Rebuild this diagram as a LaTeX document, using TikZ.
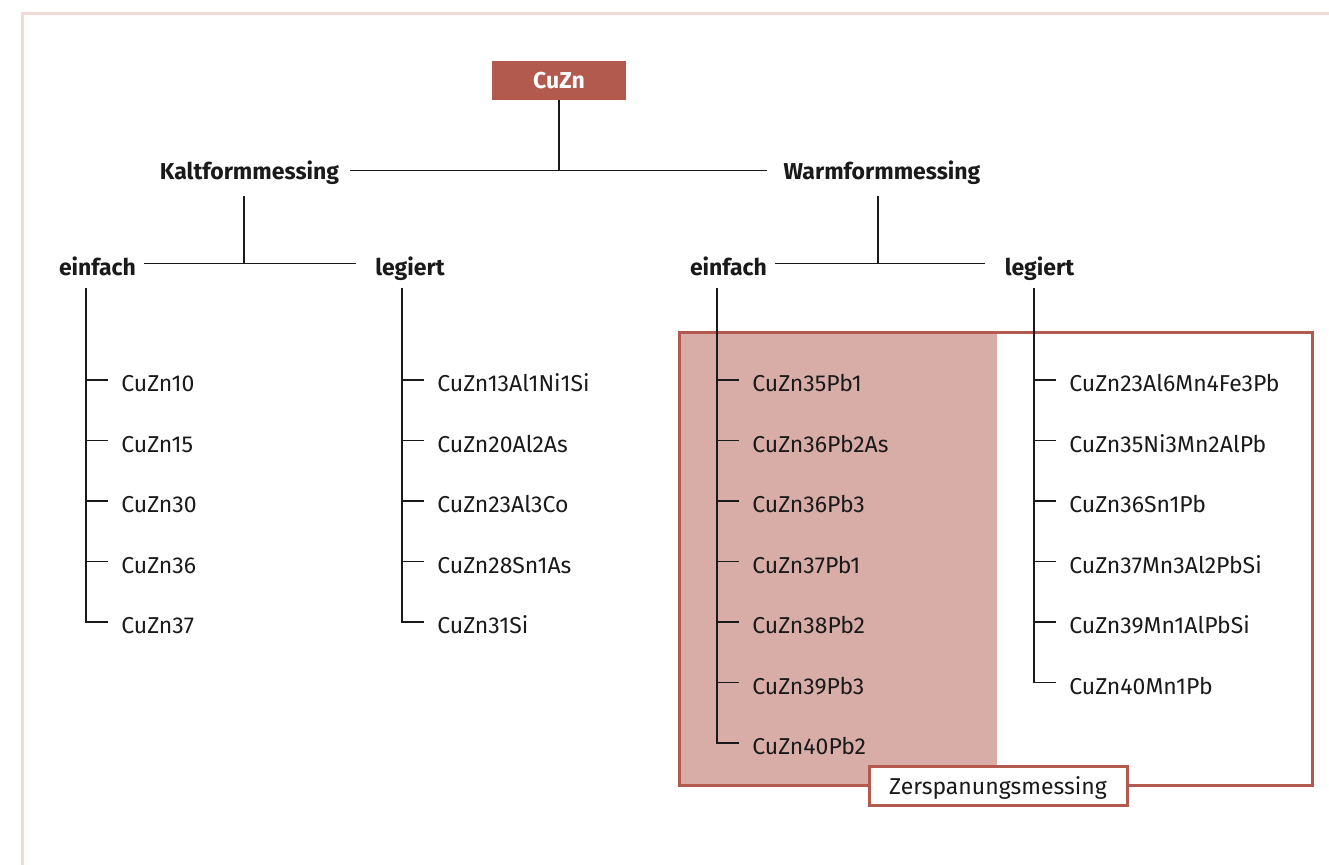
\documentclass[tikz,border=0pt]{standalone}
\usepackage{fontspec}
\setmainfont{Fira Sans}
\usepackage{xcolor}
\usetikzlibrary{positioning}
\definecolor{brassred}{HTML}{B35A4F}
\definecolor{brassshade}{HTML}{D8ADA8}
\definecolor{framepink}{HTML}{F0DAD6}
\definecolor{inkblack}{HTML}{1A1A1A}

\begin{document}
\begin{tikzpicture}[x=0.5pt,y=-0.5pt]
    \tikzstyle{edge}=[line width=0.7pt,draw=inkblack]
    \tikzstyle{tick}=[edge, shorten >=6.5pt]
    \tikzstyle{root}=[
      fill=brassred,
      text=white,
      font=\bfseries\fontsize{11.5}{13}\selectfont,
      minimum width=67pt,
      minimum height=19.5pt,
      inner sep=0pt,
    ]
    \tikzstyle{branch}=[
      text=inkblack,
      font=\bfseries\fontsize{11.5}{13}\selectfont,
      anchor=base,
      inner sep=0pt,
      text height=11pt,
      text depth=1.5pt,
    ]
    \tikzstyle{kind}=[
      branch,
      text height=14pt,
    ]
    \tikzstyle{alloy}=[
      text=inkblack,
      font=\fontsize{11.5}{13}\selectfont,
      anchor=west,
      inner sep=0pt,
      text height=12pt,
      text depth=0pt,
    ]
    \tikzstyle{label}=[
      alloy,
      anchor=center,
      fill=white,
      draw=brassred,
      line width=1.5pt,
      minimum width=129pt,
      minimum height=19.5pt,
      text height=8pt,
    ]

    \useasboundingbox (0,0) rectangle (1329,865);
    \draw[framepink, line width=1.5pt] (1340,13.5) -- (22.5,13.5) -- (22.5,870);

    \coordinate (rootAnchor) at (559,80.5);
    \coordinate (kaltAnchor) at (249.5,180);
    \coordinate (warmAnchor) at (882,180);

    % Zerspanungsmessing
    {
      \fill[brassshade] (679,333) rectangle (997,786);
      \draw[brassred, line width=1.5pt] (679,333) rectangle (1312,786);
    }

    % top
    {
      \node[root] (cuzn) at (rootAnchor) {CuZn};
      \node[branch] (kalt) at (kaltAnchor) {Kaltformmessing};
      \node[branch] (warm) at (warmAnchor) {Warmformmessing};

      \draw[edge, shorten <=5.5pt, shorten >=8pt] (kalt.east) -- (warm.west);
      \draw[edge] (cuzn.south) -- (cuzn.south |- kalt.east);
    }

    % Kaltformmessing
    {
      \node[kind] (ke) at ([xshift=-76pt, yshift=-48pt] kaltAnchor) {einfach};
      \node[kind] (kl) at ([xshift=80.25pt, yshift=-48pt] kaltAnchor) {legiert};
      \coordinate (kaltDrop) at ([xshift=-2.75pt, yshift=-8pt] kalt.base);
      \coordinate (keTop) at ([xshift=-5.75pt, yshift=-6pt] ke.base);
      \coordinate (klTop) at ([xshift=-4pt, yshift=-6pt] kl.base);

      \node[alloy] (ke1) at ([xshift=17.5pt, yshift=-46pt] keTop) {CuZn10};
      \node[alloy] (ke2) at ([xshift=17.5pt, yshift=-76.25pt] keTop) {CuZn15};
      \node[alloy] (ke3) at ([xshift=17.5pt, yshift=-106.5pt] keTop) {CuZn30};
      \node[alloy] (ke4) at ([xshift=17.5pt, yshift=-136.75pt] keTop) {CuZn36};
      \node[alloy] (ke5) at ([xshift=17.5pt, yshift=-167pt] keTop) {CuZn37};

      \node[alloy] (kl1) at ([xshift=17.5pt, yshift=-46pt] klTop) {CuZn13Al1Ni1Si};
      \node[alloy] (kl2) at ([xshift=17.5pt, yshift=-76.25pt] klTop) {CuZn20Al2As};
      \node[alloy] (kl3) at ([xshift=17.5pt, yshift=-106.5pt] klTop) {CuZn23Al3Co};
      \node[alloy] (kl4) at ([xshift=17.5pt, yshift=-136.75pt] klTop) {CuZn28Sn1As};
      \node[alloy] (kl5) at ([xshift=17.5pt, yshift=-167pt] klTop) {CuZn31Si};

      \draw[edge] (kaltDrop) -- (kaltDrop |- ke.east);
      \draw[edge, shorten <=4pt, shorten >=9.5pt] (ke.east) -- (kl.west);

      \draw[tick] (keTop) |- (ke5.west);
      \draw[tick] (ke1.west -| keTop) -- (ke1.west);
      \draw[tick] (ke2.west -| keTop) -- (ke2.west);
      \draw[tick] (ke3.west -| keTop) -- (ke3.west);
      \draw[tick] (ke4.west -| keTop) -- (ke4.west);

      \draw[tick] (klTop) |- (kl5.west);
      \draw[tick] (kl1.west -| klTop) -- (kl1.west);
      \draw[tick] (kl2.west -| klTop) -- (kl2.west);
      \draw[tick] (kl3.west -| klTop) -- (kl3.west);
      \draw[tick] (kl4.west -| klTop) -- (kl4.west);
    }

    % Warmformmessing
    {
      \node[kind] (we) at ([xshift=-76.75pt, yshift=-48pt] warmAnchor) {einfach};
      \node[kind] (wl) at ([xshift=78.75pt, yshift=-48pt] warmAnchor) {legiert};
      \coordinate (warmDrop) at ([xshift=-2pt, yshift=-8pt] warm.base);
      \coordinate (weTop) at ([xshift=-5.75pt, yshift=-6pt] we.base);
      \coordinate (wlTop) at ([xshift=-2.75pt, yshift=-6pt] wl.base);

      \node[alloy] (we1) at ([xshift=17.5pt, yshift=-46pt] weTop) {CuZn35Pb1};
      \node[alloy] (we2) at ([xshift=17.5pt, yshift=-76.25pt] weTop) {CuZn36Pb2As};
      \node[alloy] (we3) at ([xshift=17.5pt, yshift=-106.5pt] weTop) {CuZn36Pb3};
      \node[alloy] (we4) at ([xshift=17.5pt, yshift=-136.75pt] weTop) {CuZn37Pb1};
      \node[alloy] (we5) at ([xshift=17.5pt, yshift=-167pt] weTop) {CuZn38Pb2};
      \node[alloy] (we6) at ([xshift=17.5pt, yshift=-197.25pt] weTop) {CuZn39Pb3};
      \node[alloy] (we7) at ([xshift=17.5pt, yshift=-227.5pt] weTop) {CuZn40Pb2};

      \node[alloy] (wl1) at ([xshift=17.5pt, yshift=-46pt] wlTop) {CuZn23Al6Mn4Fe3Pb};
      \node[alloy] (wl2) at ([xshift=17.5pt, yshift=-76.25pt] wlTop) {CuZn35Ni3Mn2AlPb};
      \node[alloy] (wl3) at ([xshift=17.5pt, yshift=-106.5pt] wlTop) {CuZn36Sn1Pb};
      \node[alloy] (wl4) at ([xshift=17.5pt, yshift=-136.75pt] wlTop) {CuZn37Mn3Al2PbSi};
      \node[alloy] (wl5) at ([xshift=17.5pt, yshift=-167pt] wlTop) {CuZn39Mn1AlPbSi};
      \node[alloy] (wl6) at ([xshift=17.5pt, yshift=-197.25pt] wlTop) {CuZn40Mn1Pb};

      \draw[edge] (warmDrop) -- (warmDrop |- we.east);
      \draw[edge, shorten <=4pt, shorten >=9.5pt] (we.east) -- (wl.west);

      \draw[tick] (weTop) |- (we7.west);
      \draw[tick] (we1.west -| weTop) -- (we1.west);
      \draw[tick] (we2.west -| weTop) -- (we2.west);
      \draw[tick] (we3.west -| weTop) -- (we3.west);
      \draw[tick] (we4.west -| weTop) -- (we4.west);
      \draw[tick] (we5.west -| weTop) -- (we5.west);
      \draw[tick] (we6.west -| weTop) -- (we6.west);

      \draw[tick] (wlTop) |- (wl6.west);
      \draw[tick] (wl1.west -| wlTop) -- (wl1.west);
      \draw[tick] (wl2.west -| wlTop) -- (wl2.west);
      \draw[tick] (wl3.west -| wlTop) -- (wl3.west);
      \draw[tick] (wl4.west -| wlTop) -- (wl4.west);
      \draw[tick] (wl5.west -| wlTop) -- (wl5.west);
    }

    % label
    {
      \node[label] (zerspan) at (998,786.5) {Zerspanungsmessing};
    }
  \end{tikzpicture}
\end{document}
